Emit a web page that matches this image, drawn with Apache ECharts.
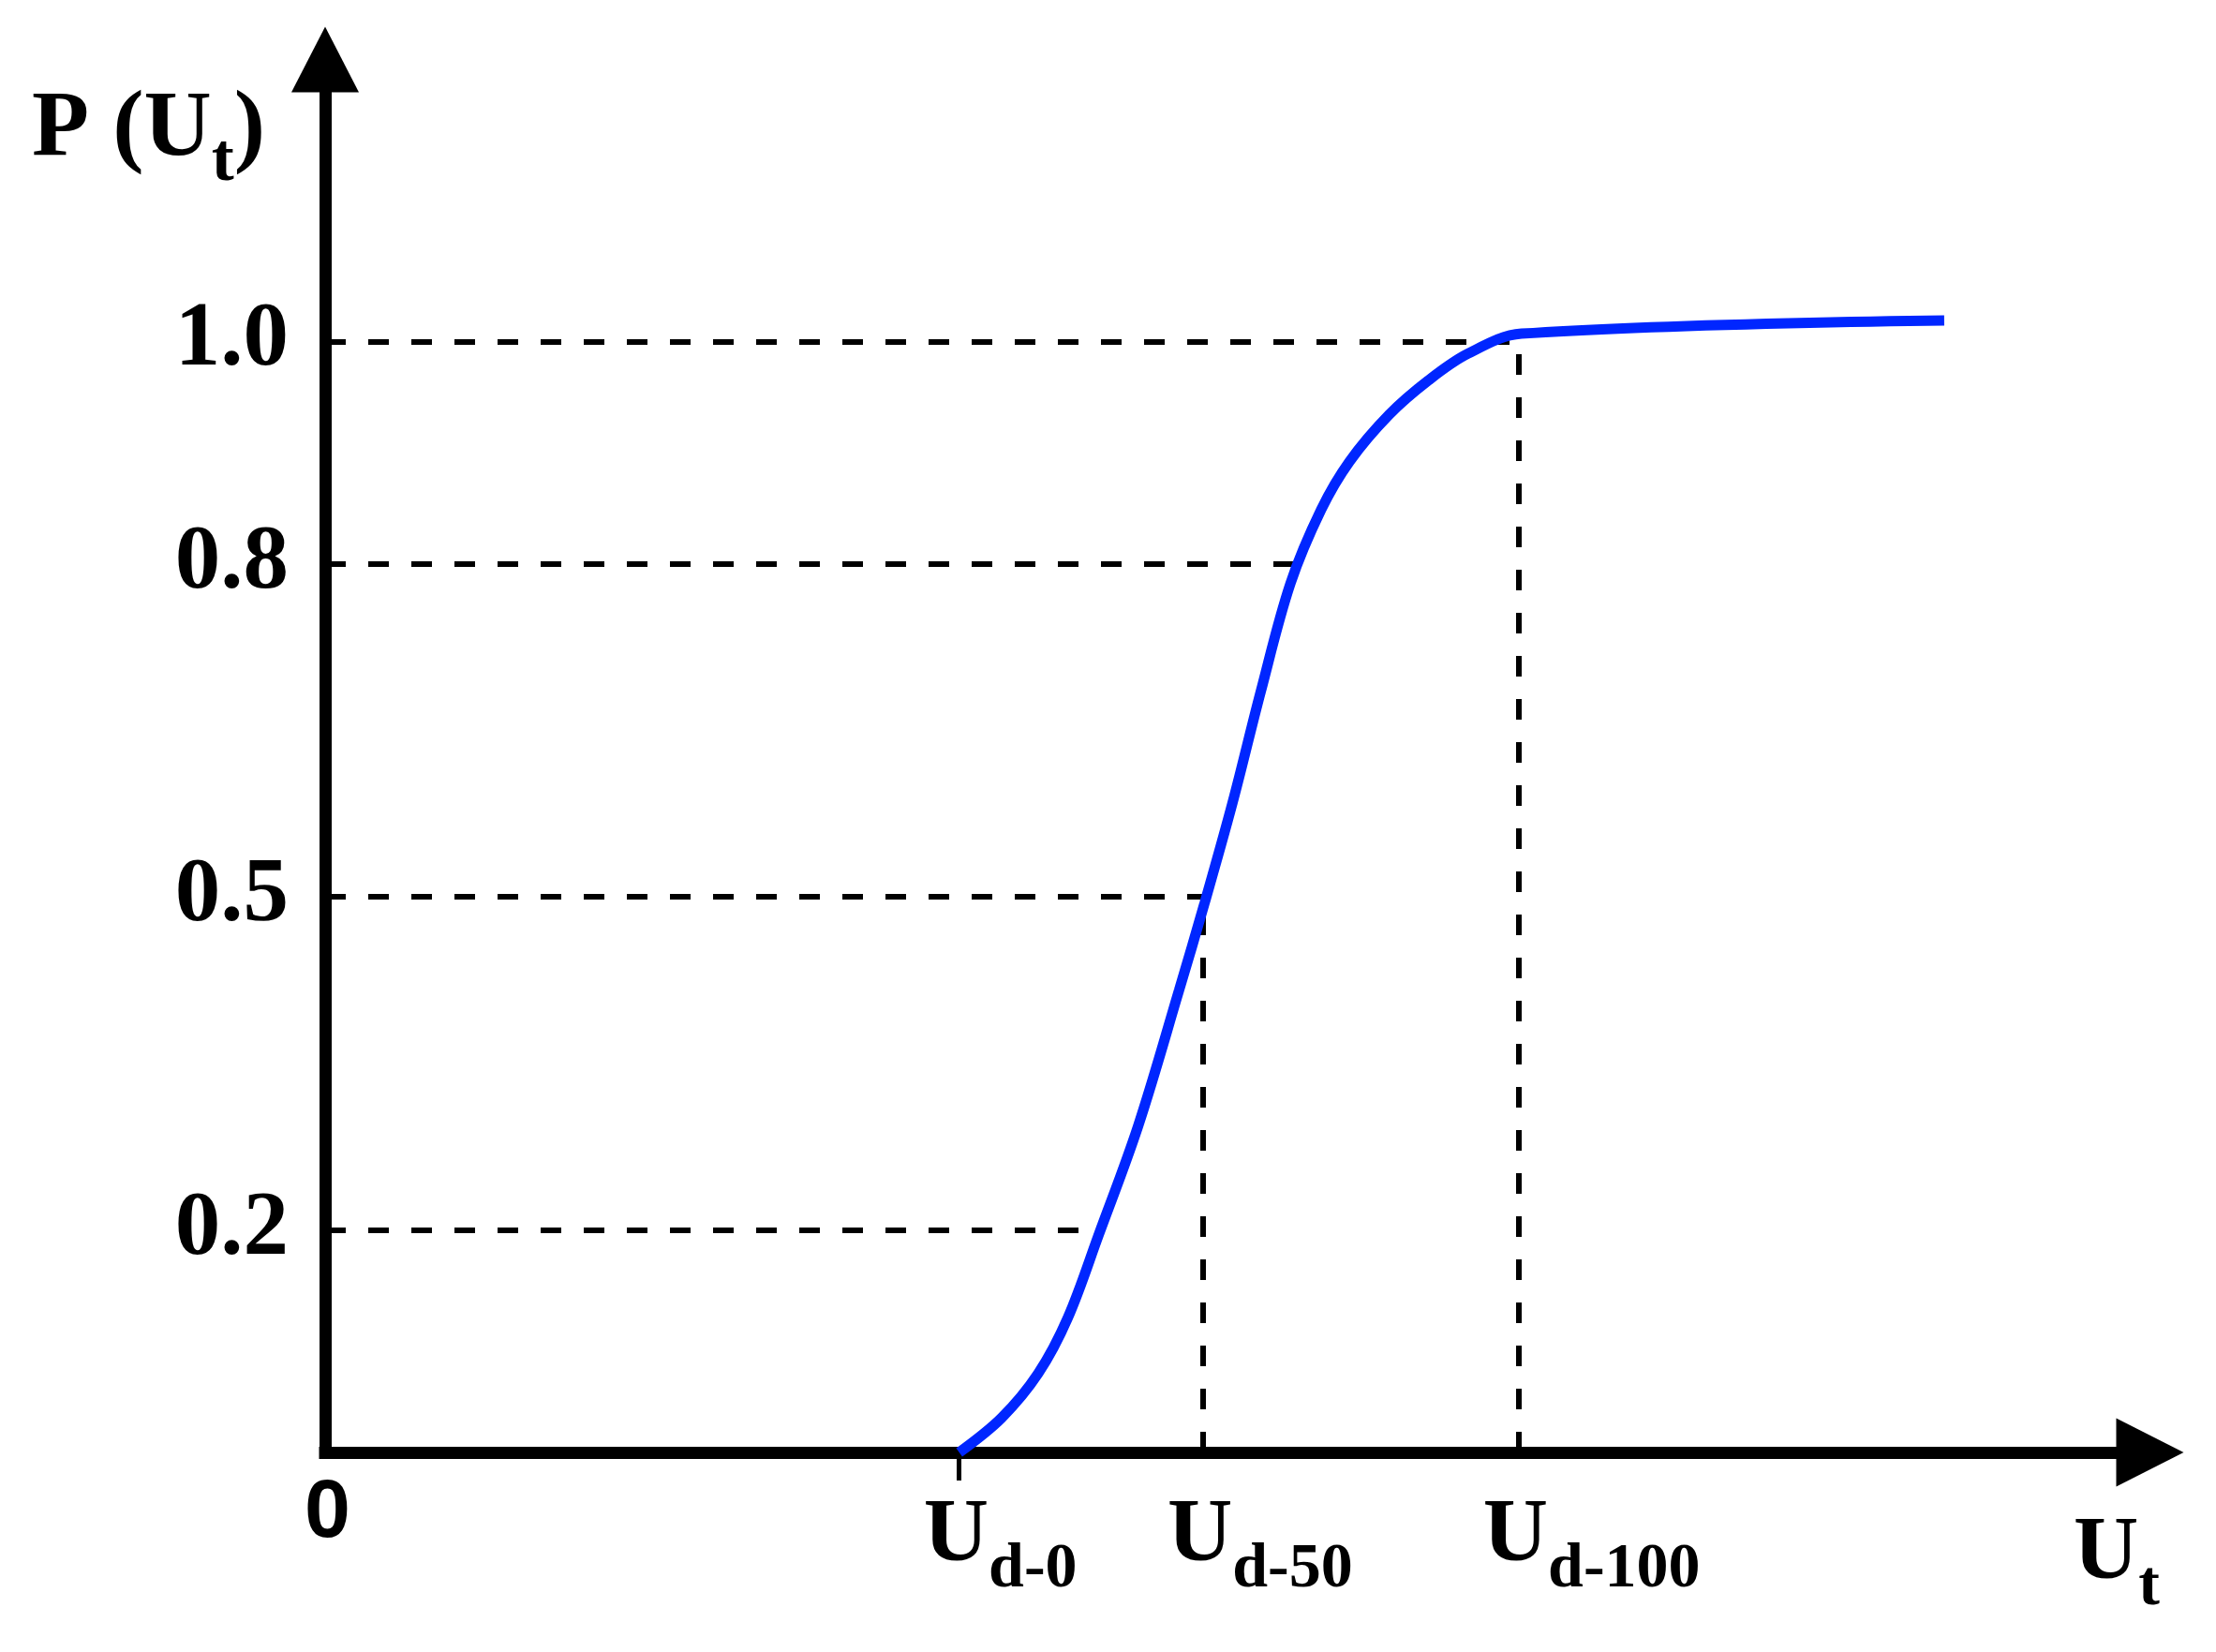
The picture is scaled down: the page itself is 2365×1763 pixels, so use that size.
<!DOCTYPE html>
<html>
<head>
<meta charset="utf-8">
<title>P(Ut)</title>
<script src="https://cdn.jsdelivr.net/npm/echarts@6/dist/echarts.min.js"></script>
<style>
    html, body { margin: 0; padding: 0; background: #fff; }
    #main { width: 2365px; height: 1763px; }
</style>
</head>
<body>
<div id="main"></div>
<script>
// S-curve, x in arbitrary voltage units (origin = 0)
var voltage = [45.0, 48.0, 50.6, 52.7, 54.9, 57.7, 60.6, 62.4, 64.4, 66.4,
    68.5, 70.7, 72.7, 75.5, 78.3, 81.1, 84.9, 114.9];
var probability = [0, 0.031, 0.071, 0.121, 0.196, 0.294, 0.416, 0.494, 0.585, 0.685,
    0.782, 0.849, 0.892, 0.934, 0.965, 0.989, 1.007, 1.019];

var yTicks = [0.2, 0.5, 0.8, 1.0];
var xTicks = [0, 45, 62.3, 84.7];
var xTickNames = ['0', 'd-0', 'd-50', 'd-100'];

// horizontal dashed lines stop here (one per y tick)
var guideEnds = [54.0, 62.3, 68.9, 84.7];
// vertical dashed lines
var dropX = [62.3, 84.7];
var dropTop = [0.5, 1.0];

var serif = 'Liberation Serif';
// u = main letter (centred in the line), s = subscript (sits at the line bottom)
var rich = {
    u: {fontFamily: serif, fontWeight: 'bold', fontSize: 96, lineHeight: 137, verticalAlign: 'middle', color: '#000'},
    s: {fontFamily: serif, fontWeight: 'bold', fontSize: 68, height: 68, verticalAlign: 'bottom', color: '#000'},
    p: {fontFamily: serif, fontWeight: 'bold', fontSize: 100, lineHeight: 137, verticalAlign: 'middle', color: '#000'},
    q: {fontFamily: serif, fontWeight: 'bold', fontSize: 72, height: 70, verticalAlign: 'bottom', color: '#000'},
    z: {fontFamily: 'Liberation Sans', fontWeight: 'bold', fontSize: 88, lineHeight: 88, padding: [0, 0, 0, 16], color: '#000'}
};

var findTick = function (list, v) {
    for (var i = 0; i < list.length; i++) {
        if (Math.abs(list[i] - v) < 1e-6) {
            return i;
        }
    }
    return -1;
};

var guides = [];
yTicks.forEach(function (v, i) {
    guides.push([{coord: [0, v]}, {coord: [guideEnds[i], v]}]);
});
dropX.forEach(function (x, i) {
    guides.push([{coord: [x, 0]}, {coord: [x, dropTop[i]]}]);
});

var axisLineStyle = {color: '#000', width: 13, cap: 'square'};

var chart = echarts.init(document.getElementById('main'));
chart.setOption({
    animation: false,
    backgroundColor: '#fff',
    grid: {left: 347, right: 70.5, top: 63.5, bottom: 213, outerBoundsMode: 'none'},
    xAxis: {
        type: 'value',
        min: 0,
        max: 129.5,
        splitLine: {show: false},
        axisLine: {
            show: true,
            onZero: false,
            symbol: ['none', 'triangle'],
            symbolSize: [73, 72],
            lineStyle: axisLineStyle
        },
        axisTick: {
            show: true,
            customValues: [xTicks[1]],
            length: 30,
            lineStyle: {color: '#000', width: 5}
        },
        axisLabel: {
            customValues: xTicks,
            margin: 22,
            align: 'left',
            // pull the "U" back so it sits over its tick
            padding: [0, 0, 0, -38],
            hideOverlap: false,
            showMinLabel: true,
            showMaxLabel: true,
            rich: rich,
            formatter: function (value) {
                var i = findTick(xTicks, value);
                if (i <= 0) {
                    return '{z|' + xTickNames[0] + '}';
                }
                return '{u|U}{s|' + xTickNames[i] + '}';
            }
        },
        name: '{u|U}{s|t}',
        nameLocation: 'end',
        nameGap: -81.5,
        nameMoveOverlap: false,
        nameTextStyle: {align: 'left', verticalAlign: 'top', padding: [41, 0, 0, 0], rich: rich}
    },
    yAxis: {
        type: 'value',
        min: 0,
        max: 1.2538,
        splitLine: {show: false},
        axisLine: {
            show: true,
            onZero: false,
            symbol: ['none', 'triangle'],
            symbolSize: [72, 70],
            lineStyle: axisLineStyle
        },
        axisTick: {show: false},
        axisLabel: {
            customValues: yTicks,
            margin: 39,
            showMinLabel: true,
            showMaxLabel: true,
            fontFamily: serif,
            fontWeight: 'bold',
            fontSize: 97,
            color: '#000',
            formatter: function (value) {
                return value.toFixed(1);
            }
        },
        name: '{p|P (U}{q|t}{p|)}',
        nameLocation: 'end',
        nameGap: -7.5,
        nameMoveOverlap: false,
        nameTextStyle: {align: 'right', verticalAlign: 'top', padding: [0, 64, 0, 0], rich: rich}
    },
    series: [{
        type: 'line',
        data: voltage.map(function (x, i) {
            return [x, probability[i]];
        }),
        smooth: 0.35,
        symbol: 'none',
        z: 5,
        lineStyle: {color: '#0026ff', width: 11},
        emphasis: {disabled: true},
        markLine: {
            silent: true,
            z: 1,
            symbol: ['none', 'none'],
            label: {show: false},
            emphasis: {disabled: true},
            lineStyle: {color: '#000', width: 6, type: [22, 24]},
            data: guides
        }
    }]
});
</script>
</body>
</html>
